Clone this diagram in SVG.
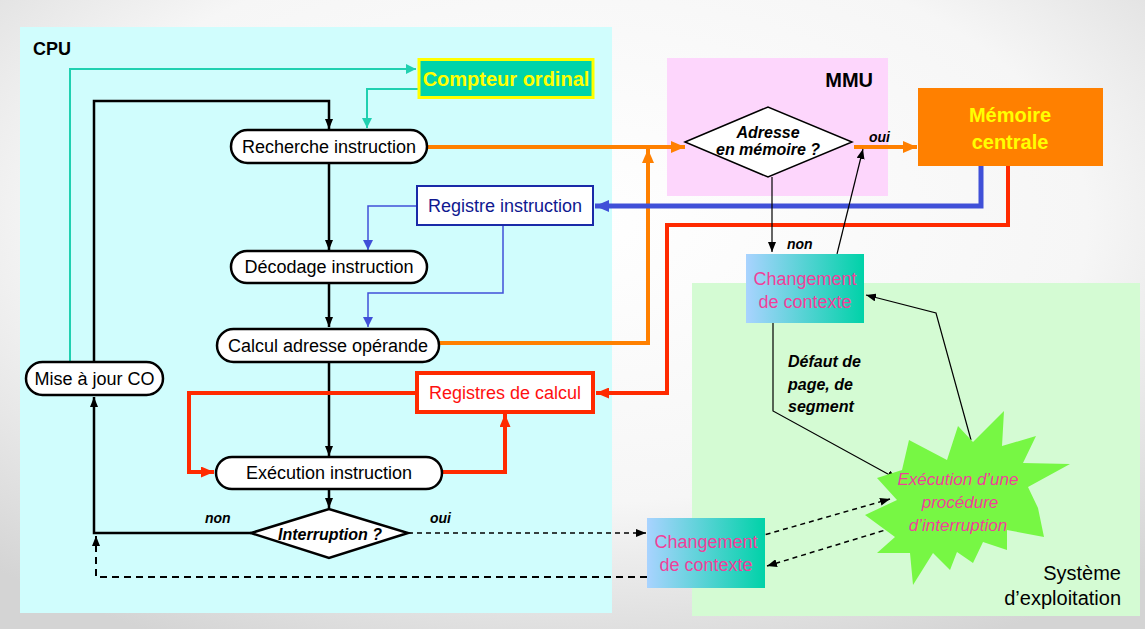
<svg xmlns="http://www.w3.org/2000/svg" width="1145" height="629" viewBox="0 0 1145 629">
<defs>
<radialGradient id="bg" cx="0.5" cy="0.35" r="0.75">
<stop offset="0" stop-color="#ffffff"/>
<stop offset="0.6" stop-color="#f6f6f6"/>
<stop offset="1" stop-color="#d4d4d4"/>
</radialGradient>
<linearGradient id="ctx" x1="0" y1="0" x2="1" y2="0">
<stop offset="0" stop-color="#a9d3ff"/>
<stop offset="1" stop-color="#00d2a8"/>
</linearGradient>
<marker id="aBlk" viewBox="0 0 10 8" refX="10" refY="4" markerWidth="10" markerHeight="8" markerUnits="userSpaceOnUse" orient="auto"><path d="M0,0 L10,4 L0,8 z" fill="#000"/></marker>
<marker id="aTeal" viewBox="0 0 10 10" refX="10" refY="5" markerWidth="10" markerHeight="10" markerUnits="userSpaceOnUse" orient="auto"><path d="M0,0 L10,5 L0,10 z" fill="#20d0b0"/></marker>
<marker id="aBlue" viewBox="0 0 10 10" refX="10" refY="5" markerWidth="10" markerHeight="10" markerUnits="userSpaceOnUse" orient="auto"><path d="M0,0 L10,5 L0,10 z" fill="#4050d8"/></marker>
<marker id="aBlueT" viewBox="0 0 14 12" refX="14" refY="6" markerWidth="14" markerHeight="12" markerUnits="userSpaceOnUse" orient="auto"><path d="M0,0 L14,6 L0,12 z" fill="#4050d8"/></marker>
<marker id="aOr" viewBox="0 0 14 12" refX="14" refY="6" markerWidth="14" markerHeight="12" markerUnits="userSpaceOnUse" orient="auto"><path d="M0,0 L14,6 L0,12 z" fill="#ff8000"/></marker>
<marker id="aRed" viewBox="0 0 13 11" refX="13" refY="5.5" markerWidth="13" markerHeight="11" markerUnits="userSpaceOnUse" orient="auto"><path d="M0,0 L13,5.5 L0,11 z" fill="#ff2a00"/></marker>
</defs>
<style>
text { font-family: "Liberation Sans", Arial, sans-serif; }
.pill { fill: #ffffff; stroke: #000; stroke-width: 2.5; }
.lbl { font-size: 18px; fill: #000; text-anchor: middle; }
.ctxbox { fill: url(#ctx); }
.ctxt { font-size: 18px; fill: #f0409a; text-anchor: middle; }
.yn { font-size: 14px; font-weight: bold; font-style: italic; fill: #000; }
.blk { fill: none; stroke: #000; stroke-width: 2.5; }
.thin { fill: none; stroke: #000; stroke-width: 1.2; }
.dash { fill: none; stroke: #000; stroke-width: 1.5; stroke-dasharray: 5 4; }
.teal { fill: none; stroke: #20d0b0; stroke-width: 2; }
.bluet { fill: none; stroke: #4050d8; stroke-width: 1.5; }
.blueT { fill: none; stroke: #4050d8; stroke-width: 5; }
.or { fill: none; stroke: #ff8000; stroke-width: 4; }
.red { fill: none; stroke: #ff2a00; stroke-width: 4; }
</style>
<rect width="1145" height="629" fill="url(#bg)"/>

<g id="cpu">
<rect x="20" y="27" width="592" height="586" fill="#d0fdfd"/>
<text x="33" y="55" font-size="18" font-weight="bold" fill="#000">CPU</text>
</g>
<g id="mmu">
<rect x="667" y="58" width="221" height="138" fill="#fdd6fc"/>
<text x="873" y="87" font-size="20" font-weight="bold" fill="#000" text-anchor="end">MMU</text>
</g>
<g id="os">
<rect x="692" y="283" width="448" height="333" fill="#d4fbd3"/>
<text x="1121" y="580" font-size="20" fill="#000" text-anchor="end">Système</text>
<text x="1121" y="605" font-size="20" fill="#000" text-anchor="end">d’exploitation</text>
</g>

<g id="connectors">
<path class="teal" d="M70,362 V69 H416" marker-end="url(#aTeal)"/>
<path class="teal" d="M418,89 H367 V128" marker-end="url(#aTeal)"/>
<path class="blk" d="M94,362 V101 H329 V129" marker-end="url(#aBlk)"/>
<path class="blk" d="M329,163 V250" marker-end="url(#aBlk)"/>
<path class="blk" d="M329,284 V327" marker-end="url(#aBlk)"/>
<path class="blk" d="M329,362 V456" marker-end="url(#aBlk)"/>
<path class="blk" d="M329,490 V508" marker-end="url(#aBlk)"/>
<path class="blk" d="M251,533 H94 V397" marker-end="url(#aBlk)"/>
<path class="bluet" d="M417,206 H368 V250" marker-end="url(#aBlue)"/>
<path class="bluet" d="M503,226 V293 H368 V327" marker-end="url(#aBlue)"/>
<path class="red" d="M416,393 H189 V472 H214" marker-end="url(#aRed)"/>
<path class="red" d="M442,472 H505 V414" marker-end="url(#aRed)"/>
<path class="or" d="M427,147 H685" marker-end="url(#aOr)"/>
<path class="or" d="M439,343 H648 V149" marker-end="url(#aOr)"/>
<path class="or" d="M854,147 H917" marker-end="url(#aOr)"/>
<path class="blueT" d="M981,166 V206 H595" marker-end="url(#aBlueT)"/>
<path class="red" d="M1008,166 V225 H667 V393 H596" marker-end="url(#aRed)"/>
<path class="dash" d="M408,533 H646" marker-end="url(#aBlk)"/>
<path class="dash" style="stroke-width:2;stroke-dasharray:7 5" d="M647,577 H96 V536" marker-end="url(#aBlk)"/>
<path class="thin" d="M772,177 V252" marker-end="url(#aBlk)"/>
<path class="thin" d="M837,254 L863,149" marker-end="url(#aBlk)"/>
<path class="thin" d="M773,323 V411 L897,479" marker-end="url(#aBlk)"/>
<path class="thin" d="M971,440 L936,313 L866,295" marker-end="url(#aBlk)"/>
<path class="dash" d="M757,537 L890,499" marker-end="url(#aBlk)"/>
<path class="dash" d="M892,528 L767,566" marker-end="url(#aBlk)"/>
<text class="yn" x="205" y="523">non</text>
<text class="yn" x="430" y="523">oui</text>
<text class="yn" x="869" y="142">oui</text>
<text class="yn" x="787" y="249">non</text>
<text font-size="16" font-weight="bold" font-style="italic" fill="#000" x="788" y="367">Défaut de</text>
<text font-size="16" font-weight="bold" font-style="italic" fill="#000" x="788" y="390">page, de</text>
<text font-size="16" font-weight="bold" font-style="italic" fill="#000" x="788" y="412">segment</text>
</g>

<g id="compteur">
<rect x="419" y="59.5" width="174" height="38" fill="#00d4aa" stroke="#ffff00" stroke-width="3"/>
<text x="506" y="86" font-size="20" font-weight="bold" fill="#ffff00" text-anchor="middle">Compteur ordinal</text>
</g>
<g id="recherche">
<rect class="pill" x="231" y="130" width="196" height="33" rx="16.5"/>
<text class="lbl" x="329" y="153">Recherche instruction</text>
</g>
<g id="registre-instruction">
<rect x="417" y="186" width="176" height="39" fill="#fff" stroke="#1a2aa8" stroke-width="2"/>
<text x="505" y="212" font-size="18" fill="#101890" text-anchor="middle">Registre instruction</text>
</g>
<g id="decodage">
<rect class="pill" x="231" y="251" width="196" height="32" rx="16"/>
<text class="lbl" x="329" y="273">Décodage instruction</text>
</g>
<g id="calcul">
<rect class="pill" x="217" y="329" width="222" height="33" rx="16.5"/>
<text class="lbl" x="328" y="352">Calcul adresse opérande</text>
</g>
<g id="mise-a-jour">
<rect class="pill" x="26" y="362" width="137" height="33" rx="16.5"/>
<text class="lbl" x="94.5" y="385">Mise à jour CO</text>
</g>
<g id="registres-calcul">
<rect x="417" y="373" width="176" height="39" fill="#fff" stroke="#ff2a00" stroke-width="4"/>
<text x="505" y="399" font-size="18" fill="#ff1010" text-anchor="middle">Registres de calcul</text>
</g>
<g id="execution">
<rect class="pill" x="216" y="457" width="226" height="32" rx="16"/>
<text class="lbl" x="329" y="479">Exécution instruction</text>
</g>
<g id="interruption">
<polygon points="251,533 329,509 408,533 329,558" fill="#fff" stroke="#000" stroke-width="2.5"/>
<text x="330" y="540" font-size="16" font-weight="bold" font-style="italic" fill="#000" text-anchor="middle">Interruption ?</text>
</g>
<g id="adresse">
<polygon points="685,142 768,107 852,142 768,177" fill="#fff" stroke="#000" stroke-width="1.5"/>
<text x="768" y="138" font-size="16" font-weight="bold" font-style="italic" fill="#000" text-anchor="middle">Adresse</text>
<text x="768" y="155" font-size="16" font-weight="bold" font-style="italic" fill="#000" text-anchor="middle">en mémoire ?</text>
</g>
<g id="memoire">
<rect x="918" y="88" width="185" height="78" fill="#ff8000"/>
<text x="1010" y="122" font-size="20" font-weight="bold" fill="#ffff00" text-anchor="middle">Mémoire</text>
<text x="1010" y="149" font-size="20" font-weight="bold" fill="#ffff00" text-anchor="middle">centrale</text>
</g>
<g id="changement-haut">
<rect class="ctxbox" x="746" y="254" width="118" height="69"/>
<text class="ctxt" x="805" y="285">Changement</text>
<text class="ctxt" x="805" y="308">de contexte</text>
</g>
<g id="changement-bas">
<rect class="ctxbox" x="647" y="518" width="118" height="70"/>
<text class="ctxt" x="706" y="548">Changement</text>
<text class="ctxt" x="706" y="571">de contexte</text>
</g>
<g id="procedure">
<polygon fill="#77f744" points="1004,411 1002,446 1036,436 1023,463 1070,464 1028,487 1038,508 1044,537 1007,530 1007,550 983,542 973,563 957,552 950,570 933,553 913,585 910,553 877,553 895,537 865,515 897,500 877,478 902,470 909,440 947,460 958,426 973,442"/>
<text x="958" y="485" font-size="17" font-style="italic" fill="#f0409a" text-anchor="middle">Exécution d’une</text>
<text x="960" y="508" font-size="17" font-style="italic" fill="#f0409a" text-anchor="middle">procédure</text>
<text x="958" y="531" font-size="17" font-style="italic" fill="#f0409a" text-anchor="middle">d’interruption</text>
</g>
</svg>
